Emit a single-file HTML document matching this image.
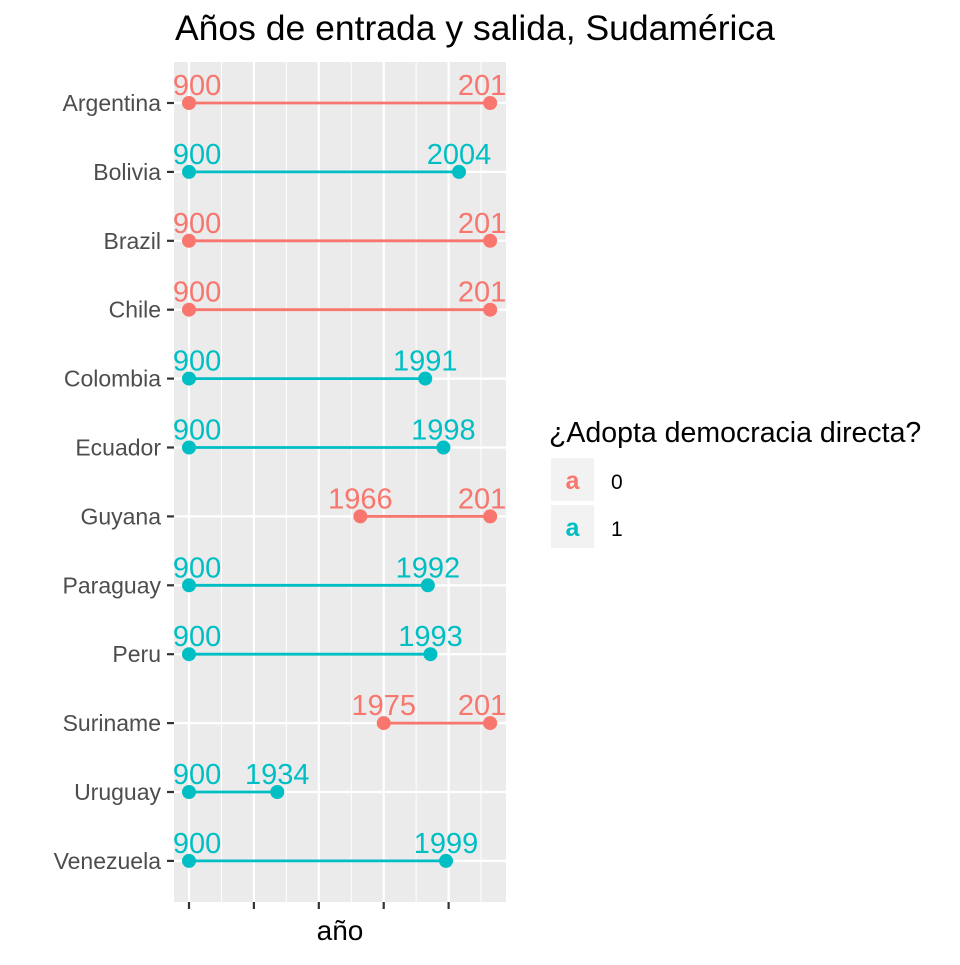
<!DOCTYPE html>
<html><head><meta charset="utf-8">
<style>
body{margin:0;background:#fff;}
svg text{font-family:"Liberation Sans",Arial,sans-serif;}
</style></head>
<body>
<svg id="chart" width="960" height="960" xmlns="http://www.w3.org/2000/svg">
<rect width="960" height="960" fill="#fff"/>
<defs><clipPath id="pclip"><rect x="174" y="62" width="332" height="840"/></clipPath></defs>
<text x="175" y="40" font-size="35.5" fill="#000">Años de entrada y salida, Sudamérica</text>
<rect x="174" y="62" width="332" height="840" fill="#ebebeb"/>
<g id="grid"></g>
<g id="marks" clip-path="url(#pclip)"></g>
<g id="axes"></g>
<text x="340" y="940" font-size="28" text-anchor="middle" fill="#000">año</text>
<g>
<text x="549" y="442" font-size="28.5" fill="#000">¿Adopta democracia directa?</text>
<rect x="551" y="458" width="43" height="43" fill="#f2f2f2"/>
<text x="572.5" y="489" font-size="25" font-weight="bold" text-anchor="middle" fill="#F8766D">a</text>
<text x="611" y="489" font-size="21" fill="#000">0</text>
<rect x="551" y="505" width="43" height="43" fill="#f2f2f2"/>
<text x="572.5" y="536" font-size="25" font-weight="bold" text-anchor="middle" fill="#00BFC4">a</text>
<text x="611" y="536" font-size="21" fill="#000">1</text>
</g>
</svg>
<script>
const countries=["Argentina","Bolivia","Brazil","Chile","Colombia","Ecuador","Guyana","Paraguay","Peru","Suriname","Uruguay","Venezuela"];
const startYears=[1900,1900,1900,1900,1900,1900,1966,1900,1900,1975,1900,1900];
const endYears=[2016,2004,2016,2016,1991,1998,2016,1992,1993,2016,1934,1999];
const adopts=[0,1,0,0,1,1,0,1,1,0,1,1];
const xTicks=[1900,1925,1950,1975,2000];

const NS="http://www.w3.org/2000/svg";
const colors=["#F8766D","#00BFC4"];
function x(v){return 189+(v-1900)*2.5962;}
function y(i){return 103+i*68.9;}
function mk(tag,attrs,parent){const e=document.createElementNS(NS,tag);for(const k in attrs)e.setAttribute(k,attrs[k]);parent.appendChild(e);return e;}
const grid=document.getElementById('grid'),marks=document.getElementById('marks'),axes=document.getElementById('axes');
for(let i=0;i<xTicks.length;i++){
  const m=xTicks[i]+12.5;
  const l=mk('line',{x1:x(m),x2:x(m),y1:62,y2:902,stroke:'#fff','stroke-width':1},grid);
  
  
}
xTicks.forEach(t=>{
  const l=mk('line',{x1:x(t),x2:x(t),y1:62,y2:902,stroke:'#fff','stroke-width':2.2},grid);
  
  
  const tk=mk('line',{x1:x(t),x2:x(t),y1:902,y2:909,stroke:'#333','stroke-width':2.2},axes);
  
  
});
countries.forEach((c,i)=>{
  const yy=y(i);
  const g=mk('line',{x1:174,x2:506,y1:yy,y2:yy,stroke:'#fff','stroke-width':2.2},grid);
  
  
  const tk=mk('line',{x1:167,x2:174,y1:yy,y2:yy,stroke:'#333','stroke-width':2.2},axes);
  
  
  const lb=mk('text',{x:161,y:yy+8,'font-size':23,'text-anchor':'end',fill:'#4d4d4d'},axes);
  lb.textContent=c;
  
  
  const col=colors[adopts[i]];
  const seg=mk('line',{x1:x(startYears[i]),x2:x(endYears[i]),y1:yy,y2:yy,stroke:col,'stroke-width':2.8},marks);
  
  
  [startYears[i],endYears[i]].forEach((v,k)=>{
    const p=mk('circle',{cx:x(v),cy:yy,r:7,fill:col},marks);
    
    
    const t=mk('text',{x:x(v),y:yy-8,'font-size':29,'text-anchor':'middle',fill:col},marks);
    t.textContent=v;
    
    
  });
});
</script>
</body></html>
